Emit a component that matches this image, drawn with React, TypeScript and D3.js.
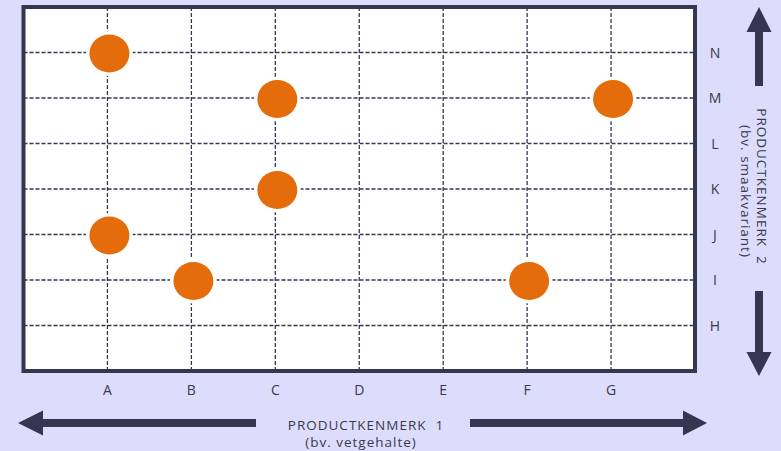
import React from "react";
import * as d3 from "d3";

const xCategories = ["A", "B", "C", "D", "E", "F", "G"];
const yCategories = ["H", "I", "J", "K", "L", "M", "N"];
const pointX = ["A", "C", "G", "C", "A", "B", "F"];
const pointY = ["N", "M", "M", "K", "J", "I", "I"];
const xTitle = ["PRODUCTKENMERK  1", "(bv. vetgehalte)"];
const yTitle = ["PRODUCTKENMERK  2", "(bv. smaakvariant)"];

const W = 781;
const H = 451;
const BG = "#dcdcfc";
const DARK = "#363650";
const ORANGE = "#e46c0a";
const TEXT = "#3a3a48";
const FONT = "'Open Sans', sans-serif";

export default function App() {
  const left = 23.5, right = 695, top = 7, bottom = 371;
  const x = d3.scalePoint<string>().domain(xCategories).range([left, right]).padding(1);
  const y = d3.scalePoint<string>().domain(yCategories).range([bottom, top]).padding(1);
  const points = pointX.map((px, i) => ({ x: px, y: pointY[i] }));

  const arrowV = (x0: number, yTip: number, yBase: number, yEnd: number) => {
    const p = d3.path();
    p.moveTo(x0, yTip);
    p.lineTo(x0 + 12.5, yBase);
    p.lineTo(x0 + 4, yBase);
    p.lineTo(x0 + 4, yEnd);
    p.lineTo(x0 - 4, yEnd);
    p.lineTo(x0 - 4, yBase);
    p.lineTo(x0 - 12.5, yBase);
    p.closePath();
    return p.toString();
  };
  const arrowH = (y0: number, xTip: number, xBase: number, xEnd: number) => {
    const p = d3.path();
    p.moveTo(xTip, y0);
    p.lineTo(xBase, y0 - 12.5);
    p.lineTo(xBase, y0 - 4);
    p.lineTo(xEnd, y0 - 4);
    p.lineTo(xEnd, y0 + 4);
    p.lineTo(xBase, y0 + 4);
    p.lineTo(xBase, y0 + 12.5);
    p.closePath();
    return p.toString();
  };

  const titleStyle = { whiteSpace: "pre" as const, letterSpacing: "1px" };

  return (
    <svg width={W} height={H} style={{ position: "absolute", left: 0, top: 0, display: "block" }}>
      <rect x={0} y={0} width={W} height={H} fill={BG} />
      <rect x={left} y={top} width={right - left} height={bottom - top} fill="#ffffff" />
      {xCategories.map((c) => (
        <line key={"gx" + c} x1={x(c)} x2={x(c)} y1={top} y2={bottom}
          stroke={DARK} strokeWidth={1.3} strokeDasharray="4,2" />
      ))}
      {yCategories.map((c) => (
        <line key={"gy" + c} x1={left} x2={right} y1={y(c)} y2={y(c)}
          stroke={DARK} strokeWidth={1.3} strokeDasharray="4,2" />
      ))}
      {points.map((p, i) => (
        <ellipse key={"p" + i} cx={(x(p.x) as number) + 2} cy={(y(p.y) as number) + 1}
          rx={20} ry={19} fill={ORANGE} stroke="#ffffff" strokeWidth={7} paintOrder="stroke" />
      ))}
      <rect x={left} y={top} width={right - left} height={bottom - top} fill="none"
        stroke={DARK} strokeWidth={4} />
      {xCategories.map((c) => (
        <text key={"tx" + c} x={x(c)} y={395} textAnchor="middle" fontFamily={FONT}
          fontSize={14} fill={TEXT}>{c}</text>
      ))}
      {yCategories.map((c) => (
        <text key={"ty" + c} x={715} y={(y(c) as number) + 5} textAnchor="middle" fontFamily={FONT}
          fontSize={14} fill={TEXT}>{c}</text>
      ))}
      <path d={arrowV(759, 7, 32, 86)} fill={DARK} />
      <path d={arrowV(759, 376, 352, 291)} fill={DARK} />
      <path d={arrowH(423, 18, 43, 256)} fill={DARK} />
      <path d={arrowH(423, 707, 683, 470)} fill={DARK} />
      <text x={366} y={429.5} textAnchor="middle" fontFamily={FONT} fontSize={13.5} fill={TEXT} style={titleStyle}>{xTitle[0]}</text>
      <text x={361} y={447} textAnchor="middle" fontFamily={FONT} fontSize={13.5} fill={TEXT} style={titleStyle}>{xTitle[1]}</text>
      <text transform="translate(757,186.5) rotate(90)" textAnchor="middle" fontFamily={FONT}
        fontSize={13.5} fill={TEXT} style={titleStyle}>{yTitle[0]}</text>
      <text transform="translate(740.5,191.5) rotate(90)" textAnchor="middle" fontFamily={FONT}
        fontSize={13.5} fill={TEXT} style={titleStyle}>{yTitle[1]}</text>
    </svg>
  );
}
